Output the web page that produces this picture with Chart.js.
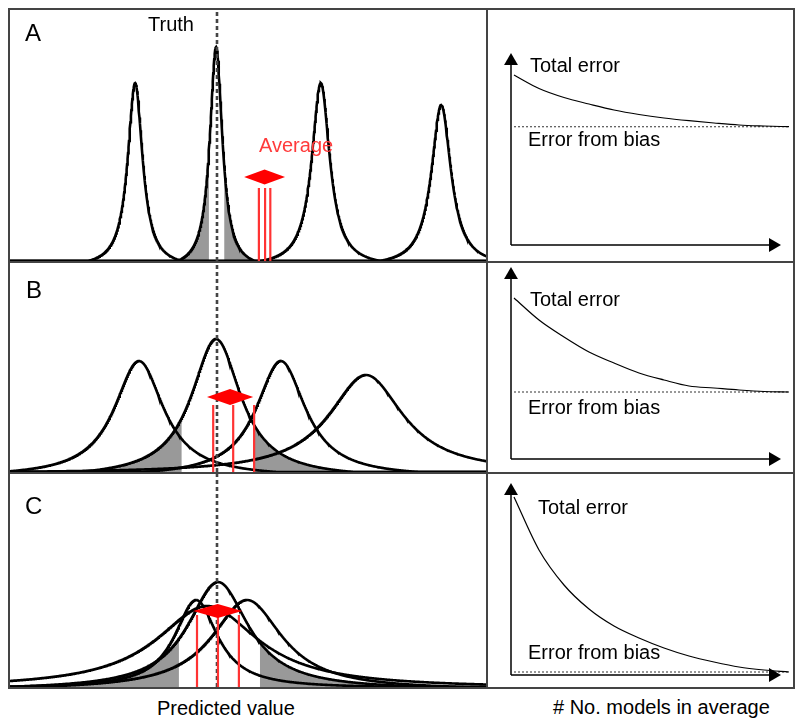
<!DOCTYPE html>
<html>
<head>
<meta charset="utf-8">
<script src="https://cdn.jsdelivr.net/npm/chart.js@4.4.0/dist/chart.umd.min.js"></script>
<style>
  body { margin: 0; background: #fff; }
  #fig { position: relative; width: 795px; height: 722px; overflow: hidden;
         font-family: "Liberation Sans", Arial, Helvetica, sans-serif; }
  #fig canvas { position: absolute; }
  .rule { position: absolute; background: #444; z-index: 2; }
  .lbl { position: absolute; white-space: nowrap; z-index: 3; color: #000; }
</style>
</head>
<body>
<div id="fig"></div>
<script>
// ---- data ----
// Predicted value axis: truth sits at 0
const truthValue = 0;

// Row A: narrow, biased model distributions
const centersA = [-1.72, -0.02, 2.18, 4.71];
const heightsA = [1.78, 2.14, 1.78, 1.56];
const widthsA = [0.19, 0.16, 0.23, 0.25];
const reachA = [0.99, 0.82, 1.26, 1.3];
const meansA = [0.88, 1.01, 1.12];
const avgRangeA = [0.57, 1.43];
const shadeBandA = [-0.17, 0.15];

// Row B: wider distributions
const centersB = [-1.64, -0.02, 1.34, 3.13];
const heightsB = [1.11, 1.33, 1.11, 0.97];
const widthsB = [0.63, 0.63, 0.63, 0.95];
const reachB = [2.9, 2.9, 2.9, 8];
const meansB = [-0.08, 0.34, 0.78];
const avgRangeB = [-0.21, 0.76];
const shadeBandB = [-0.74, 0.76];

// Row C: unbiased but broad distributions
const centersC = [-0.44, -0.21, 0.02, 0.63];
const heightsC = [0.87, 0.81, 1.05, 0.87];
const widthsC = [0.55, 1.3, 0.78, 0.9];
const reachC = [4.5, 10, 4.6, 4.6];
const meansC = [-0.42, 0.02, 0.46];
const avgRangeC = [-0.50, 0.53];
const shadeBandC = [-0.80, 0.90];

// Right column: error vs number of models averaged
const modelCounts = [1, 2, 3, 4, 5, 6, 7, 8, 9, 10, 11, 12];
const totalErrorA = [1.70, 1.565, 1.475, 1.41, 1.35, 1.305, 1.27, 1.243, 1.22, 1.20, 1.19, 1.183];
const totalErrorB = [1.61, 1.39, 1.22, 1.07, 0.96, 0.86, 0.79, 0.73, 0.71, 0.69, 0.675, 0.67];
const totalErrorC = [1.78, 1.25, 0.90, 0.66, 0.49, 0.37, 0.27, 0.19, 0.13, 0.08, 0.05, 0.03];
const biasErrorA = 1.183;
const biasErrorB = 0.67;
const biasErrorC = 0.03;

// ---- layout (pixels) ----
const fig = document.getElementById('fig');
const rowTop = [10, 263, 474];
const rowBottom = [261, 472, 687];
const leftX0 = 10, leftX1 = 486, rightX0 = 488, rightX1 = 793;
const truthPx = 217, pxPerUnit = 47.6, pxPerY = 100;
const axisPx = [245, 459, 675];      // y of the error axes
const modelPx0 = 514, pxPerModel = 25; // x of model count 1

function rule(x, y, w, h) {
  const d = document.createElement('div');
  d.className = 'rule';
  Object.assign(d.style, { left: x + 'px', top: y + 'px', width: w + 'px', height: h + 'px' });
  fig.appendChild(d);
}
function label(text, x, baseline, size, color) {
  const d = document.createElement('div');
  d.className = 'lbl';
  d.textContent = text;
  Object.assign(d.style, {
    left: x + 'px', top: (baseline - 0.8465 * size) + 'px',
    fontSize: size + 'px', lineHeight: size + 'px', color: color || '#000'
  });
  fig.appendChild(d);
}
function makeCanvas(x, y, w, h) {
  const c = document.createElement('canvas');
  c.width = w; c.height = h;
  Object.assign(c.style, { left: x + 'px', top: y + 'px', width: w + 'px', height: h + 'px' });
  fig.appendChild(c);
  return c;
}

// frame
rule(8, 8, 787, 2);
rule(8, 261, 787, 2);
rule(8, 472, 787, 2);
rule(8, 687, 787, 2);
rule(8, 8, 2, 681);
rule(486, 8, 2, 681);
rule(793, 8, 2, 681);

// Lorentz-like peak with a finite reach
function peak(c, h, w, reach, a, b) {
  const floor = 1 / (1 + (reach / w) ** 2);
  const n = Math.max(2, Math.ceil((b - a) / 0.01));
  const pts = [];
  for (let i = 0; i <= n; i++) {
    const x = a + (b - a) * i / n;
    const l = 1 / (1 + ((x - c) / w) ** 2);
    pts.push({ x: x, y: h * Math.max(0, (l - floor) / (1 - floor)) });
  }
  return pts;
}

const avgArrow = {
  id: 'avgArrow',
  afterDatasetsDraw(chart, args, opts) {
    if (!opts.range) return;
    const xs = chart.scales.x, ys = chart.scales.y, ctx = chart.ctx;
    const x1 = xs.getPixelForValue(opts.range[0]);
    const x2 = xs.getPixelForValue(opts.range[1]);
    const y = ys.getPixelForValue(opts.level);
    const xm = (x1 + x2) / 2;
    ctx.save();
    ctx.fillStyle = '#ff0000';
    ctx.beginPath();
    ctx.moveTo(x1, y);
    ctx.lineTo(xm, y - opts.half);
    ctx.lineTo(x2, y);
    ctx.lineTo(xm, y + opts.half);
    ctx.closePath();
    ctx.fill();
    ctx.restore();
  }
};

function baseOptions(xmin, xmax, ymin, ymax, arrow) {
  return {
    responsive: false, animation: false, events: [],
    layout: { padding: 0, autoPadding: false },
    plugins: { legend: { display: false }, tooltip: { enabled: false }, avgArrow: arrow || {} },
    scales: {
      x: { type: 'linear', display: false, min: xmin, max: xmax },
      y: { type: 'linear', display: false, min: ymin, max: ymax }
    }
  };
}

function leftPanel(row, centers, heights, widths, reach, shadeIdx, band, means, meanTop, avgRange, avgLevel, half) {
  const h = rowBottom[row] - rowTop[row];
  const xmin = (leftX0 - truthPx) / pxPerUnit, xmax = (leftX1 - truthPx) / pxPerUnit;
  const ymax = h / pxPerY;
  const ds = [];
  const s = shadeIdx;
  [[xmin, band[0]], [band[1], xmax]].forEach(r => {
    ds.push({ data: peak(centers[s], heights[s], widths[s], reach[s], r[0], r[1]),
      showLine: true, fill: 'origin', backgroundColor: '#999999', borderWidth: 0,
      pointRadius: 0, order: 5 });
  });
  centers.forEach((c, i) => {
    ds.push({ data: peak(c, heights[i], widths[i], reach[i], xmin, xmax),
      showLine: true, fill: false, borderColor: '#000', borderWidth: 2.6,
      pointRadius: 0, order: 4 });
  });
  ds.push({ data: [{ x: truthValue, y: 0 }, { x: truthValue, y: ymax }],
    showLine: true, borderColor: '#444', borderWidth: 2.6, borderDash: [4, 3],
    pointRadius: 0, order: 3 });
  means.forEach(m => {
    ds.push({ data: [{ x: m, y: 0 }, { x: m, y: meanTop }],
      showLine: true, borderColor: '#ff3333', borderWidth: 2.2, pointRadius: 0, order: 1 });
  });
  const cv = makeCanvas(leftX0, rowTop[row], leftX1 - leftX0, h);
  new Chart(cv, {
    type: 'scatter',
    data: { datasets: ds },
    options: baseOptions(xmin, xmax, 0, ymax, { range: avgRange, level: avgLevel, half: half }),
    plugins: [avgArrow]
  });
}

function rightPanel(row, total, bias) {
  const top = rowTop[row], bottom = rowBottom[row];
  const xmin = 1 + (rightX0 - modelPx0) / pxPerModel, xmax = 1 + (rightX1 - modelPx0) / pxPerModel;
  const ymin = -(bottom - axisPx[row]) / pxPerY, ymax = (axisPx[row] - top) / pxPerY;
  const axisN = 0.88, tipN = 11.36, tipY = 1.84;
  const ds = [
    { data: modelCounts.map((n, i) => ({ x: n, y: total[i] })), showLine: true,
      borderColor: '#000', borderWidth: 1.2, pointRadius: 0, cubicInterpolationMode: 'monotone', order: 2 },
    { data: [{ x: modelCounts[0], y: bias }, { x: modelCounts[modelCounts.length - 1], y: bias }],
      showLine: true, borderColor: '#555', borderWidth: 1.2, borderDash: [2, 2], pointRadius: 0, order: 2 },
    { data: [{ x: axisN, y: 0 }, { x: axisN, y: tipY }], showLine: true,
      borderColor: '#000', borderWidth: 1.5, pointRadius: [0, 8], pointStyle: 'triangle',
      pointBackgroundColor: '#000', pointBorderWidth: 0, order: 1 },
    { data: [{ x: axisN, y: 0 }, { x: tipN, y: 0 }], showLine: true,
      borderColor: '#000', borderWidth: 1.5, pointRadius: [0, 8], pointStyle: 'triangle',
      pointRotation: 90, pointBackgroundColor: '#000', pointBorderWidth: 0, order: 1 }
  ];
  const cv = makeCanvas(rightX0, top, rightX1 - rightX0, bottom - top);
  new Chart(cv, { type: 'scatter', data: { datasets: ds }, options: baseOptions(xmin, xmax, ymin, ymax) });
}

leftPanel(0, centersA, heightsA, widthsA, reachA, 1, shadeBandA, meansA, 0.73, avgRangeA, 0.84, 7.5);
leftPanel(1, centersB, heightsB, widthsB, reachB, 1, shadeBandB, meansB, 0.67, avgRangeB, 0.75, 8);
leftPanel(2, centersC, heightsC, widthsC, reachC, 2, shadeBandC, meansC, 0.72, avgRangeC, 0.76, 7);
rightPanel(0, totalErrorA, biasErrorA);
rightPanel(1, totalErrorB, biasErrorB);
rightPanel(2, totalErrorC, biasErrorC);

// texts
label('A', 25, 41.7, 24);
label('B', 26, 298.3, 24);
label('C', 25, 514, 24);
label('Truth', 148, 30.7, 20);
label('Average', 259, 151.7, 20, '#ff3b3b');
label('Total error', 530, 71.7, 20);
label('Error from bias', 528, 146, 20);
label('Total error', 530, 306, 20);
label('Error from bias', 528, 414.3, 20);
label('Total error', 538, 514, 20);
label('Error from bias', 528, 659.3, 20);
label('Predicted value', 157, 715, 20);
label('# No. models in average', 553, 714, 20);
</script>
</body>
</html>
